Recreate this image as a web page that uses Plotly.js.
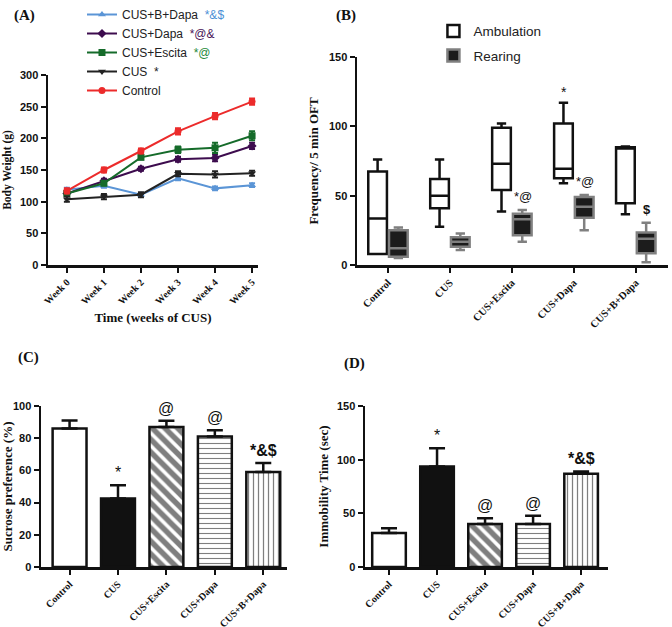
<!DOCTYPE html>
<html>
<head>
<meta charset="utf-8">
<script src="https://cdn.plot.ly/plotly-3.0.1.min.js"></script>
<style>html,body{margin:0;padding:0;background:#fff}#chart{width:672px;height:627px}</style>
</head>
<body>
<div id="chart"></div>
<script>
// ---------- Panel A: body weight ----------
const weeks = ['Week 0','Week 1','Week 2','Week 3','Week 4','Week 5'];
const bwBDapa = [119,125,111,137,121,126];
const bwBDapaErr = [3,3,2,3,3,3];
const bwDapa = [113,133,152,167,169,188];
const bwDapaErr = [3,3,3,4,5,5];
const bwEscita = [113,129,170,182,185,204];
const bwEscitaErr = [3,3,3,5,8,7];
const bwCUS = [104,108,111,144,143,145];
const bwCUSErr = [4,4,4,4,5,4];
const bwControl = [117,150,180,211,235,258];
const bwControlErr = [4,4,4,5,5,5];

// ---------- Panel B: open field (box plots) ----------
const groups = ['Control','CUS','CUS+Escita','CUS+Dapa','CUS+B+Dapa'];
const ambLow  = [8, 27.6, 38.5, 59, 36.6];
const ambQ1   = [8, 41, 54, 62.5, 44.5];
const ambMed  = [33.5, 50, 73, 69.5, 84];
const ambQ3   = [67.5, 62, 99, 102, 85];
const ambHigh = [76, 76, 102, 117, 85.5];
const rearLow  = [5, 10.8, 16.8, 25, 2];
const rearQ1   = [6, 13.2, 21.5, 34, 8.5];
const rearMed  = [12, 16.8, 33, 42, 19];
const rearQ3   = [25, 20, 37, 49, 23.5];
const rearHigh = [27, 22.8, 39.7, 50.5, 30.5];
const ambSig  = ['', '', '', '*', ''];
const rearSig = ['', '', '*@', '*@', '<b>$</b>'];

// ---------- Panel C: sucrose preference ----------
const sucrose = [86, 42.5, 87, 81, 59];
const sucroseErr = [5, 8.3, 3.8, 4, 5.6];
const sucroseSig = ['', '*', '@', '@', '*&amp;&#36;'];

// ---------- Panel D: immobility time ----------
const immobility = [31.6, 93.6, 40, 40, 86.8];
const immobilityErr = [4.4, 17, 5.5, 7.7, 2.2];
const immobilitySig = ['', '*', '@', '@', '*&amp;&#36;'];

const SANS = 'Liberation Sans, Arial, sans-serif';
const SERIF = 'Liberation Serif, Times New Roman, serif';

function lineTrace(name, y, err, color, symbol) {
  return {
    type: 'scatter', mode: 'lines+markers', x: weeks, y: y, name: name,
    xaxis: 'x', yaxis: 'y', legend: 'legend',
    line: {color: color, width: 2},
    marker: {color: color, symbol: symbol, size: 7},
    error_y: {type: 'data', array: err, visible: true, color: color, thickness: 2, width: 3}
  };
}
const sfx = (t, c) => '  <span style="color:' + c + '">' + t + '</span>';
const traces = [
  lineTrace('CUS+B+Dapa' + sfx('*&amp;&#36;', '#4a8fd6'), bwBDapa, bwBDapaErr, '#5b95d6', 'triangle-up'),
  lineTrace('CUS+Dapa' + sfx('*@&amp;', '#4a1458'), bwDapa, bwDapaErr, '#3d0c4e', 'diamond'),
  lineTrace('CUS+Escita' + sfx('*@', '#1f8a3a'), bwEscita, bwEscitaErr, '#156b2a', 'square'),
  lineTrace('CUS' + sfx('*', '#222'), bwCUS, bwCUSErr, '#222222', 'triangle-down'),
  lineTrace('Control', bwControl, bwControlErr, '#ec2b2b', 'circle')
];

traces.push({
  type: 'box', name: 'Ambulation', x: groups, q1: ambQ1, median: ambMed, q3: ambQ3,
  lowerfence: ambLow, upperfence: ambHigh, xaxis: 'x2', yaxis: 'y2', legend: 'legend2', legendgroup: 'amb',
  fillcolor: '#ffffff', line: {color: '#111111', width: 2.5}, whiskerwidth: 0.5,
  hoverinfo: 'skip'
});
traces.push({
  type: 'box', name: 'Rearing', x: groups, q1: rearQ1, median: rearMed, q3: rearQ3,
  lowerfence: rearLow, upperfence: rearHigh, xaxis: 'x2', yaxis: 'y2', legend: 'legend2', legendgroup: 'rear',
  fillcolor: '#1c1c1c', line: {color: '#808080', width: 2.5}, whiskerwidth: 0.5,
  hoverinfo: 'skip'
});

// one bar trace per group so each gets its own fill pattern
const barColor   = ['#ffffff', '#111111', '#ffffff', '#ffffff', '#ffffff'];
const barShape   = ['', '', '\\', '-', '|'];
const barPatSize = [8, 8, 9, 5, 5];
const barSolid   = [0.3, 0.3, 0.6, 0.22, 0.25];
function barTraces(y, err, xa, ya) {
  return groups.map((g, i) => {
    const m = {color: barColor[i], line: {color: '#111111', width: 2.5}};
    if (barShape[i]) m.pattern = {shape: barShape[i], fgcolor: '#000000', bgcolor: '#ffffff',
      size: barPatSize[i], solidity: barSolid[i], fillmode: 'overlay'};
    return {
      type: 'bar', x: [g], y: [y[i]], xaxis: xa, yaxis: ya, showlegend: false, width: 0.7,
      marker: m, hoverinfo: 'skip',
      error_y: {type: 'data', symmetric: false, array: [err[i]], arrayminus: [0],
                color: '#111111', thickness: 2.5, width: 8}
    };
  });
}
traces.push(...barTraces(sucrose, sucroseErr, 'x3', 'y3'));
traces.push(...barTraces(immobility, immobilityErr, 'x4', 'y4'));

const axLine = {showline: true, linecolor: '#111', linewidth: 2.5, ticks: 'outside',
  ticklen: 5, tickwidth: 2, tickcolor: '#111', showgrid: false, zeroline: false};
const yTick = {family: SANS, size: 11, color: '#111', weight: 'bold'};
const xTick = {family: SERIF, size: 10, color: '#111', weight: 'bold'};
const xTickB = {family: SERIF, size: 10.5, color: '#111', weight: 'bold'};

const annotations = [];
const lab = (t, x, y) => annotations.push({text: t, x: x / 672, y: 1 - y / 627, xref: 'paper', yref: 'paper',
  showarrow: false, xanchor: 'left', yanchor: 'middle', font: {family: SERIF, size: 15, color: '#111', weight: 'bold'}});
lab('(A)', 12, 15); lab('(B)', 334, 15); lab('(C)', 16, 357); lab('(D)', 342, 363);

groups.forEach((g, i) => {
  if (ambSig[i]) annotations.push({text: ambSig[i], x: g, y: ambHigh[i], xref: 'x2', yref: 'y2', xshift: -10, yshift: 1,
    showarrow: false, yanchor: 'bottom', font: {family: SANS, size: 14, color: '#111'}});
  if (rearSig[i]) annotations.push({text: rearSig[i], x: g, y: rearHigh[i], xref: 'x2', yref: 'y2', xshift: 11, yshift: 4,
    showarrow: false, yanchor: 'bottom', font: {family: SANS, size: 13, color: '#111111'}});
  if (sucroseSig[i]) annotations.push({text: sucroseSig[i], x: g, y: sucrose[i] + sucroseErr[i], xref: 'x3', yref: 'y3', yshift: 2,
    showarrow: false, yanchor: 'bottom', font: {family: SANS, size: 16, color: '#111', weight: sucroseSig[i].length > 1 ? 'bold' : 'normal'}});
  if (immobilitySig[i]) annotations.push({text: immobilitySig[i], x: g, y: immobility[i] + immobilityErr[i], xref: 'x4', yref: 'y4', yshift: 2,
    showarrow: false, yanchor: 'bottom', font: {family: SANS, size: 16, color: '#111', weight: immobilitySig[i].length > 1 ? 'bold' : 'normal'}});
});

const layout = {
  width: 672, height: 627, margin: {l: 0, r: 0, t: 0, b: 0},
  paper_bgcolor: '#fff', plot_bgcolor: 'rgba(0,0,0,0)', showlegend: true,
  boxmode: 'group', boxgap: 0.33, boxgroupgap: 0.1, barmode: 'overlay',
  legend: {x: 0.122, y: 1.0, xanchor: 'left', yanchor: 'top', bgcolor: 'rgba(0,0,0,0)',
    font: {family: SANS, size: 12, color: '#222'}, traceorder: 'normal', tracegroupgap: 0, itemwidth: 30},
  legend2: {x: 0.645, y: 0.975, xanchor: 'left', yanchor: 'top', bgcolor: 'rgba(0,0,0,0)', tracegroupgap: 4,
    font: {family: SANS, size: 13.5, color: '#222'}},
  xaxis: Object.assign({}, axLine, {domain: [48/672, 258/672], anchor: 'y', type: 'category',
    range: [-0.51, 5.16], tickangle: -45, tickfont: xTick,
    title: {text: 'Time (weeks of CUS)', font: {family: SERIF, size: 13, color: '#111', weight: 'bold'}, standoff: 8}}),
  yaxis: Object.assign({}, axLine, {domain: [1 - 265/627, 1 - 75/627], anchor: 'x', range: [0, 300], dtick: 50,
    tickfont: yTick, title: {text: 'Body Weight (g)', font: {family: SERIF, size: 11.5, color: '#111', weight: 'bold'}, standoff: 6}}),
  xaxis2: Object.assign({}, axLine, {domain: [357/672, 668/672], anchor: 'y2', type: 'category',
    range: [-0.5, 4.52], tickangle: -45, tickfont: xTickB}),
  yaxis2: Object.assign({}, axLine, {domain: [1 - 265/627, 1 - 57/627], anchor: 'x2', range: [0, 150], dtick: 50,
    tickfont: yTick, title: {text: 'Frequency/ 5 min OFT', font: {family: SERIF, size: 13, color: '#111', weight: 'bold'}, standoff: 8}}),
  xaxis3: Object.assign({}, axLine, {domain: [41/672, 287/672], anchor: 'y3', type: 'category',
    range: [-0.59, 4.49], tickangle: -45, tickfont: xTick}),
  yaxis3: Object.assign({}, axLine, {domain: [1 - 567/627, 1 - 406/627], anchor: 'x3', range: [0, 100], dtick: 20,
    tickfont: yTick, title: {text: 'Sucrose preference (%)', font: {family: SERIF, size: 13, color: '#111', weight: 'bold'}, standoff: 6}}),
  xaxis4: Object.assign({}, axLine, {domain: [365/672, 608/672], anchor: 'y4', type: 'category',
    range: [-0.5, 4.56], tickangle: -45, tickfont: xTick}),
  yaxis4: Object.assign({}, axLine, {domain: [1 - 567/627, 1 - 406/627], anchor: 'x4', range: [0, 150], dtick: 50,
    tickfont: yTick, title: {text: 'Immobility Time (sec)', font: {family: SERIF, size: 13, color: '#111', weight: 'bold'}, standoff: 6}}),
  annotations: annotations
};

Plotly.newPlot('chart', traces, layout, {displayModeBar: false, staticPlot: true});
</script>
</body>
</html>
